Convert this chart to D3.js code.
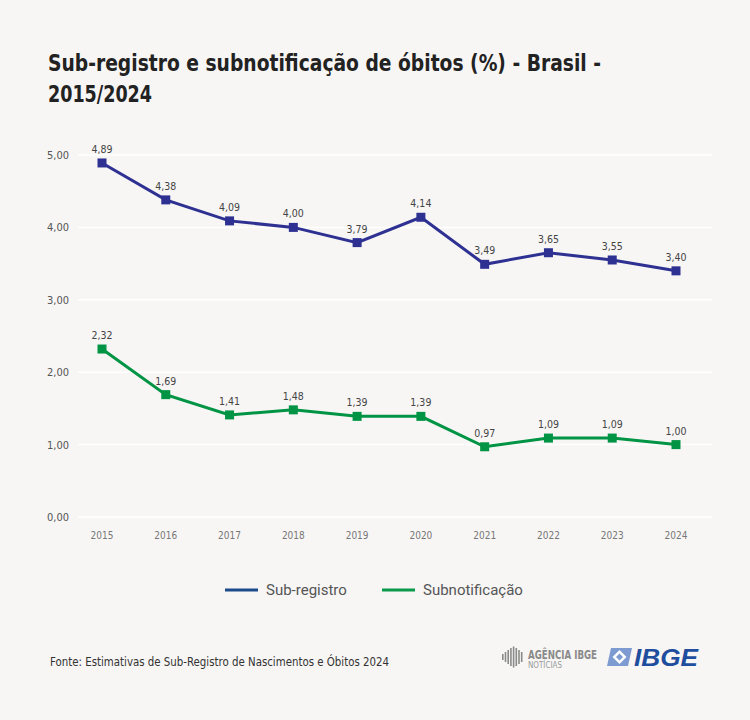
<!DOCTYPE html>
<html>
<head>
<meta charset="utf-8">
<script src="https://cdn.jsdelivr.net/npm/d3@7"></script>
<style>
  body { margin: 0; background: #f7f6f5; }
  svg { display: block; }
</style>
</head>
<body>
<svg id="chart" width="750" height="720"></svg>
<script>
// data
var years = [2015, 2016, 2017, 2018, 2019, 2020, 2021, 2022, 2023, 2024];
var subRegistro = [4.89, 4.38, 4.09, 4.00, 3.79, 4.14, 3.49, 3.65, 3.55, 3.40];
var subnotificacao = [2.32, 1.69, 1.41, 1.48, 1.39, 1.39, 0.97, 1.09, 1.09, 1.00];
var yTicks = [0, 1, 2, 3, 4, 5];
var seriesNames = ["Sub-registro", "Subnotificação"];

var condensed = "'DejaVu Sans Condensed', 'Liberation Sans Narrow', sans-serif";
var fmt = function(v) { return d3.format(".2f")(v).replace(".", ","); };

var svg = d3.select("#chart");

svg.append("rect").attr("width", 750).attr("height", 720).attr("fill", "#f7f6f5");

// title, squeezed to the narrow look of the original
var title = svg.append("text")
	.attr("font-family", condensed)
	.attr("font-weight", "bold")
	.attr("font-size", 23)
	.attr("fill", "#222");
title.append("tspan").attr("x", 48).attr("y", 71)
	.attr("textLength", 553).attr("lengthAdjust", "spacingAndGlyphs")
	.text("Sub-registro e subnotificação de óbitos (%) - Brasil -");
title.append("tspan").attr("x", 48).attr("y", 102)
	.attr("textLength", 104).attr("lengthAdjust", "spacingAndGlyphs")
	.text("2015/2024");

var x = d3.scalePoint().domain(years).range([102, 676]);
var y = d3.scaleLinear().domain([0, 5]).range([517, 155]);

// grid
svg.append("g").selectAll("line")
	.data(yTicks)
	.join("line")
	.attr("x1", 78).attr("x2", 712)
	.attr("y1", function(d) { return y(d); })
	.attr("y2", function(d) { return y(d); })
	.attr("stroke", "#ffffff")
	.attr("stroke-width", 1.5);

// y axis labels
svg.append("g").selectAll("text")
	.data(yTicks)
	.join("text")
	.attr("x", 69)
	.attr("y", function(d) { return y(d) + 4; })
	.attr("text-anchor", "end")
	.attr("font-family", condensed)
	.attr("font-size", 11)
	.attr("fill", "#555")
	.text(fmt);

// x axis labels
svg.append("g").selectAll("text")
	.data(years)
	.join("text")
	.attr("x", function(d) { return x(d); })
	.attr("y", 539)
	.attr("text-anchor", "middle")
	.attr("font-family", condensed)
	.attr("font-size", 10)
	.attr("fill", "#777")
	.text(function(d) { return d; });

function drawSeries(values, color) {
	var pts = years.map(function(yr, i) { return { year: yr, v: values[i] }; });
	var line = d3.line()
		.x(function(d) { return x(d.year); })
		.y(function(d) { return y(d.v); });
	var g = svg.append("g");
	g.append("path")
		.datum(pts)
		.attr("d", line)
		.attr("fill", "none")
		.attr("stroke", color)
		.attr("stroke-width", 3);
	g.selectAll("rect")
		.data(pts)
		.join("rect")
		.attr("x", function(d) { return x(d.year) - 4.5; })
		.attr("y", function(d) { return y(d.v) - 4.5; })
		.attr("width", 9).attr("height", 9)
		.attr("fill", color);
	g.selectAll("text")
		.data(pts)
		.join("text")
		.attr("x", function(d) { return x(d.year); })
		.attr("y", function(d) { return y(d.v) - 10; })
		.attr("text-anchor", "middle")
		.attr("font-family", condensed)
		.attr("font-size", 10.5)
		.attr("fill", "#444")
		.text(function(d) { return fmt(d.v); });
}

drawSeries(subRegistro, "#2e3192");
drawSeries(subnotificacao, "#009444");

// legend
var legend = [
	{ name: seriesNames[0], color: "#1d4a8a", x: 225 },
	{ name: seriesNames[1], color: "#0a9a4a", x: 382 }
];
var lg = svg.append("g").selectAll("g").data(legend).join("g");
lg.append("line")
	.attr("x1", function(d) { return d.x; })
	.attr("x2", function(d) { return d.x + 33; })
	.attr("y1", 590).attr("y2", 590)
	.attr("stroke", function(d) { return d.color; })
	.attr("stroke-width", 3);
lg.append("text")
	.attr("x", function(d) { return d.x + 41; })
	.attr("y", 595)
	.attr("font-family", "Roboto, sans-serif")
	.attr("font-size", 15)
	.attr("fill", "#555")
	.text(function(d) { return d.name; });

// source
svg.append("text")
	.attr("x", 50).attr("y", 666)
	.attr("font-family", condensed)
	.attr("font-size", 12.5)
	.attr("fill", "#333")
	.attr("textLength", 339).attr("lengthAdjust", "spacingAndGlyphs")
	.text("Fonte: Estimativas de Sub-Registro de Nascimentos e Óbitos 2024");

// Agência IBGE logo (simplified)
var ag = svg.append("g").attr("transform", "translate(502,647)");
var barH = [6, 10, 14, 18, 21, 18, 14, 10];
ag.selectAll("rect")
	.data(barH)
	.join("rect")
	.attr("x", function(d, i) { return i * 2.7; })
	.attr("y", function(d) { return 10 - d / 2; })
	.attr("width", 1.6)
	.attr("height", function(d) { return d; })
	.attr("fill", "#8a8a8a");
ag.append("text")
	.attr("x", 26).attr("y", 11.5)
	.attr("font-family", condensed)
	.attr("font-weight", "bold")
	.attr("font-size", 12.5)
	.attr("fill", "#8a8a8a")
	.attr("textLength", 69).attr("lengthAdjust", "spacingAndGlyphs")
	.text("AGÊNCIA IBGE");
ag.append("text")
	.attr("x", 26).attr("y", 21)
	.attr("font-family", condensed)
	.attr("font-size", 8.5)
	.attr("fill", "#9a9a9a")
	.attr("textLength", 34).attr("lengthAdjust", "spacingAndGlyphs")
	.text("NOTÍCIAS");

// IBGE logo (simplified)
var ib = svg.append("g").attr("transform", "translate(607,648)");
ib.append("path")
	.attr("d", "M4,0 L25,0 L21,18 L0,18 Z")
	.attr("fill", "#7d9bd1");
ib.append("path")
	.attr("d", "M12.5,2 L19.5,9 L12.5,16 L5.5,9 Z")
	.attr("fill", "#ffffff");
ib.append("path")
	.attr("d", "M12.5,5.5 L16,9 L12.5,12.5 L9,9 Z")
	.attr("fill", "#7d9bd1");
ib.append("text")
	.attr("x", 27).attr("y", 18)
	.attr("font-family", "'Liberation Sans', Arial, sans-serif")
	.attr("font-weight", "bold")
	.attr("font-style", "italic")
	.attr("font-size", 24)
	.attr("fill", "#1f4e9e")
	.attr("textLength", 64).attr("lengthAdjust", "spacingAndGlyphs")
	.text("IBGE");
</script>
</body>
</html>
